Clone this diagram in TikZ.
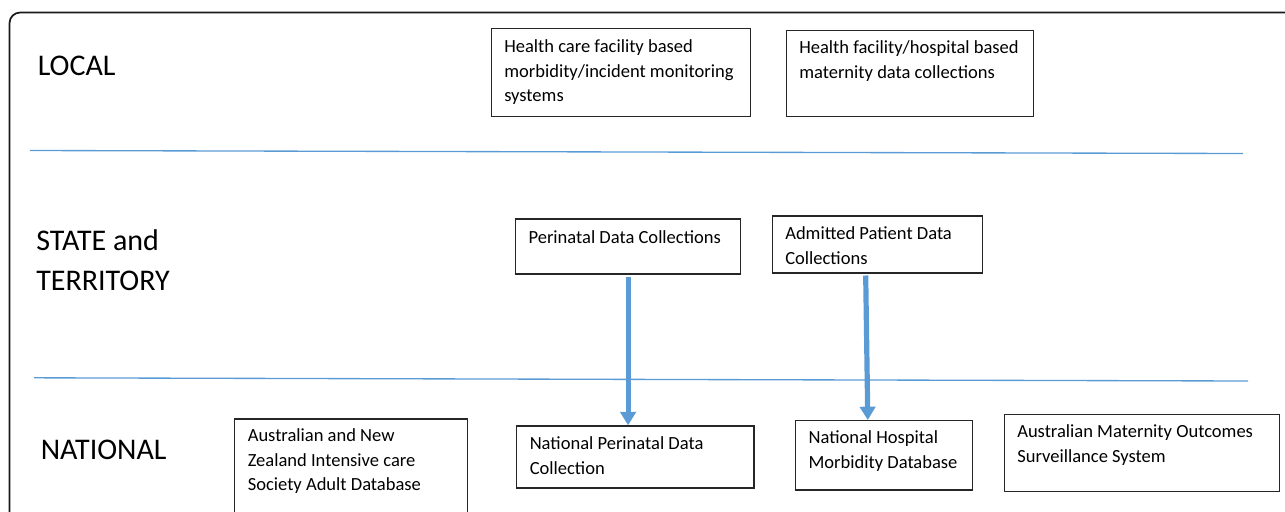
\documentclass[tikz,border=0pt]{standalone}
\usepackage{fontspec}
\setmainfont{Carlito}
\usetikzlibrary{arrows.meta,calc}
\definecolor{sepblue}{HTML}{5B9BD5}
\definecolor{arrblue}{HTML}{5B9BD5}
\begin{document}
\begin{tikzpicture}[x=0.75pt,y=-0.75pt,
  boxst/.style={draw=black!85,line width=0.9pt,anchor=north west,inner sep=0pt},
  txt/.style={anchor=base west,inner sep=0pt,align=left,font=\fontsize{13.9pt}{18.5pt}\selectfont},
  big/.style={anchor=base west,inner sep=0pt,align=left,font=\fontsize{22.5pt}{30pt}\selectfont},
  sep/.style={draw=sepblue,line width=1pt},
  flow/.style={draw=arrblue,line width=3.9pt,-{Triangle[width=11.5pt,length=10pt]}}]
\useasboundingbox (0,0) rectangle (1285,511);
\begin{scope}
\clip (0,0) rectangle (1285,511);
\draw[line width=1.3pt,rounded corners=8pt,draw=black!90] (9.5,12.5) rectangle (1300,530);
\end{scope}
% separators
\coordinate (s1a) at (30,150.5);
\coordinate (s1b) at (1243,153.5);
\coordinate (s2a) at (34,377.8);
\coordinate (s2b) at (1248,381);
\draw[sep] (s1a) -- (s1b);
\draw[sep] (s2a) -- (s2b);
% level labels (base = last line)
\node[big] (local) at (37.5,75) {LOCAL};
\node[big] (state) at (36,290) {STATE and\\TERRITORY};
\node[big] (national) at (40.5,459) {NATIONAL};
% local boxes
\node[boxst,minimum width=194.25pt,minimum height=66.4pt] (b1) at (491,27.5) {};
\node[txt] (t1) at (504,101.7) {Health care facility based\\morbidity/incident monitoring\\systems};
\node[boxst,minimum width=185.25pt,minimum height=64.5pt] (b2) at (786,30) {};
\node[txt] (t2) at (799,78) {Health facility/hospital based\\maternity data collections};
% state boxes
\node[boxst,minimum width=168.75pt,minimum height=41.25pt] (b3) at (515,218.3) {};
\node[txt] (t3) at (528.3,243.3) {Perinatal Data Collections};
\node[boxst,minimum width=157.9pt,minimum height=42.75pt] (b4) at (771.7,215.3) {};
\node[txt] (t4) at (785,264) {Admitted Patient Data\\Collections};
% national boxes
\node[boxst,minimum width=174.75pt,minimum height=82.5pt] (b5) at (234,418.3) {};
\node[txt] (t5) at (247.5,490.7) {Australian and New\\Zealand Intensive care\\Society Adult Database};
\node[boxst,minimum width=178.1pt,minimum height=46.5pt] (b6) at (516,425.3) {};
\node[txt] (t6) at (529.5,474) {National Perinatal Data\\Collection};
\node[boxst,minimum width=132.75pt,minimum height=52pt] (b7) at (794.5,420) {};
\node[txt] (t7) at (808.3,468.3) {National Hospital\\Morbidity Database};
\node[boxst,minimum width=206.25pt,minimum height=57.75pt] (b8) at (1003.5,414) {};
\node[txt] (t8) at (1017,462.3) {Australian Maternity Outcomes\\Surveillance System};
% arrows
\draw[flow] ($(b3.south)+(0,2)$) -- (b3.south |- b6.north);
\draw[flow] ($(b4.south west)+(94,2)$) -- ($(b7.north west)+(73.3,0)$);
\end{tikzpicture}
\end{document}
